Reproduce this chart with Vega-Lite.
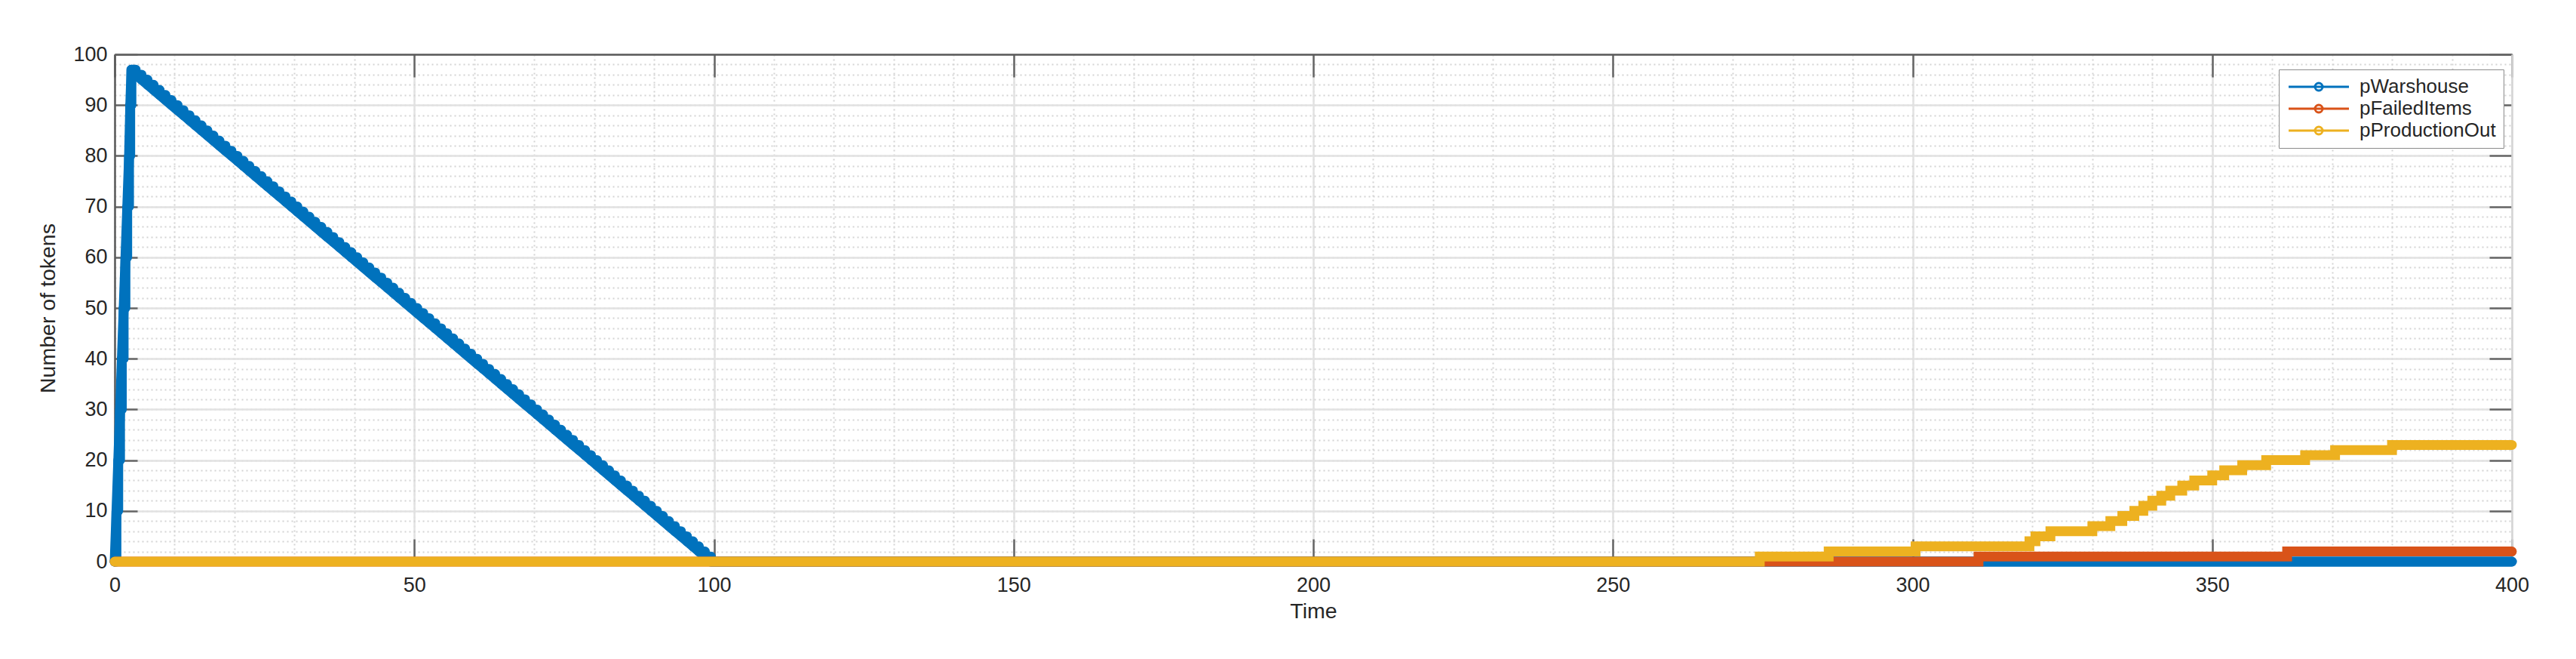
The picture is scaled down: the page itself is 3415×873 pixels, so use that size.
{
 "$schema": "https://vega.github.io/schema/vega-lite/v6.json",
 "width": 3178,
 "height": 672,
 "autosize": "none",
 "padding": {"left": 152, "top": 72, "right": 85, "bottom": 129},
 "background": "white",
 "data": {"values": [
  {"series":"pWarshouse","time":0,"tokens":0},
  {"series":"pWarshouse","time":0.3,"tokens":10},
  {"series":"pWarshouse","time":0.6,"tokens":20},
  {"series":"pWarshouse","time":0.9,"tokens":30},
  {"series":"pWarshouse","time":1.2,"tokens":40},
  {"series":"pWarshouse","time":1.5,"tokens":50},
  {"series":"pWarshouse","time":1.8,"tokens":60},
  {"series":"pWarshouse","time":2.1,"tokens":70},
  {"series":"pWarshouse","time":2.4,"tokens":80},
  {"series":"pWarshouse","time":2.6,"tokens":90},
  {"series":"pWarshouse","time":2.8,"tokens":97},
  {"series":"pWarshouse","time":3.5,"tokens":96},
  {"series":"pWarshouse","time":4.5,"tokens":95},
  {"series":"pWarshouse","time":5.5,"tokens":94},
  {"series":"pWarshouse","time":6.5,"tokens":93},
  {"series":"pWarshouse","time":7.5,"tokens":92},
  {"series":"pWarshouse","time":8.5,"tokens":91},
  {"series":"pWarshouse","time":9.5,"tokens":90},
  {"series":"pWarshouse","time":10.5,"tokens":89},
  {"series":"pWarshouse","time":11.5,"tokens":88},
  {"series":"pWarshouse","time":12.5,"tokens":87},
  {"series":"pWarshouse","time":13.5,"tokens":86},
  {"series":"pWarshouse","time":14.5,"tokens":85},
  {"series":"pWarshouse","time":15.5,"tokens":84},
  {"series":"pWarshouse","time":16.5,"tokens":83},
  {"series":"pWarshouse","time":17.5,"tokens":82},
  {"series":"pWarshouse","time":18.5,"tokens":81},
  {"series":"pWarshouse","time":19.5,"tokens":80},
  {"series":"pWarshouse","time":20.5,"tokens":79},
  {"series":"pWarshouse","time":21.5,"tokens":78},
  {"series":"pWarshouse","time":22.5,"tokens":77},
  {"series":"pWarshouse","time":23.5,"tokens":76},
  {"series":"pWarshouse","time":24.5,"tokens":75},
  {"series":"pWarshouse","time":25.5,"tokens":74},
  {"series":"pWarshouse","time":26.5,"tokens":73},
  {"series":"pWarshouse","time":27.5,"tokens":72},
  {"series":"pWarshouse","time":28.5,"tokens":71},
  {"series":"pWarshouse","time":29.5,"tokens":70},
  {"series":"pWarshouse","time":30.5,"tokens":69},
  {"series":"pWarshouse","time":31.5,"tokens":68},
  {"series":"pWarshouse","time":32.5,"tokens":67},
  {"series":"pWarshouse","time":33.5,"tokens":66},
  {"series":"pWarshouse","time":34.5,"tokens":65},
  {"series":"pWarshouse","time":35.5,"tokens":64},
  {"series":"pWarshouse","time":36.5,"tokens":63},
  {"series":"pWarshouse","time":37.5,"tokens":62},
  {"series":"pWarshouse","time":38.5,"tokens":61},
  {"series":"pWarshouse","time":39.5,"tokens":60},
  {"series":"pWarshouse","time":40.5,"tokens":59},
  {"series":"pWarshouse","time":41.5,"tokens":58},
  {"series":"pWarshouse","time":42.5,"tokens":57},
  {"series":"pWarshouse","time":43.5,"tokens":56},
  {"series":"pWarshouse","time":44.5,"tokens":55},
  {"series":"pWarshouse","time":45.5,"tokens":54},
  {"series":"pWarshouse","time":46.5,"tokens":53},
  {"series":"pWarshouse","time":47.5,"tokens":52},
  {"series":"pWarshouse","time":48.5,"tokens":51},
  {"series":"pWarshouse","time":49.5,"tokens":50},
  {"series":"pWarshouse","time":50.5,"tokens":49},
  {"series":"pWarshouse","time":51.5,"tokens":48},
  {"series":"pWarshouse","time":52.5,"tokens":47},
  {"series":"pWarshouse","time":53.5,"tokens":46},
  {"series":"pWarshouse","time":54.5,"tokens":45},
  {"series":"pWarshouse","time":55.5,"tokens":44},
  {"series":"pWarshouse","time":56.5,"tokens":43},
  {"series":"pWarshouse","time":57.5,"tokens":42},
  {"series":"pWarshouse","time":58.5,"tokens":41},
  {"series":"pWarshouse","time":59.5,"tokens":40},
  {"series":"pWarshouse","time":60.5,"tokens":39},
  {"series":"pWarshouse","time":61.5,"tokens":38},
  {"series":"pWarshouse","time":62.5,"tokens":37},
  {"series":"pWarshouse","time":63.5,"tokens":36},
  {"series":"pWarshouse","time":64.5,"tokens":35},
  {"series":"pWarshouse","time":65.5,"tokens":34},
  {"series":"pWarshouse","time":66.5,"tokens":33},
  {"series":"pWarshouse","time":67.5,"tokens":32},
  {"series":"pWarshouse","time":68.5,"tokens":31},
  {"series":"pWarshouse","time":69.5,"tokens":30},
  {"series":"pWarshouse","time":70.5,"tokens":29},
  {"series":"pWarshouse","time":71.5,"tokens":28},
  {"series":"pWarshouse","time":72.5,"tokens":27},
  {"series":"pWarshouse","time":73.5,"tokens":26},
  {"series":"pWarshouse","time":74.5,"tokens":25},
  {"series":"pWarshouse","time":75.5,"tokens":24},
  {"series":"pWarshouse","time":76.5,"tokens":23},
  {"series":"pWarshouse","time":77.5,"tokens":22},
  {"series":"pWarshouse","time":78.5,"tokens":21},
  {"series":"pWarshouse","time":79.5,"tokens":20},
  {"series":"pWarshouse","time":80.5,"tokens":19},
  {"series":"pWarshouse","time":81.5,"tokens":18},
  {"series":"pWarshouse","time":82.5,"tokens":17},
  {"series":"pWarshouse","time":83.5,"tokens":16},
  {"series":"pWarshouse","time":84.5,"tokens":15},
  {"series":"pWarshouse","time":85.5,"tokens":14},
  {"series":"pWarshouse","time":86.5,"tokens":13},
  {"series":"pWarshouse","time":87.5,"tokens":12},
  {"series":"pWarshouse","time":88.5,"tokens":11},
  {"series":"pWarshouse","time":89.5,"tokens":10},
  {"series":"pWarshouse","time":90.5,"tokens":9},
  {"series":"pWarshouse","time":91.5,"tokens":8},
  {"series":"pWarshouse","time":92.5,"tokens":7},
  {"series":"pWarshouse","time":93.5,"tokens":6},
  {"series":"pWarshouse","time":94.5,"tokens":5},
  {"series":"pWarshouse","time":95.5,"tokens":4},
  {"series":"pWarshouse","time":96.5,"tokens":3},
  {"series":"pWarshouse","time":97.5,"tokens":2},
  {"series":"pWarshouse","time":98.5,"tokens":1},
  {"series":"pWarshouse","time":99.5,"tokens":0},
  {"series":"pWarshouse","time":400,"tokens":0},
  {"series":"pFailedItems","time":0,"tokens":0},
  {"series":"pFailedItems","time":311,"tokens":1},
  {"series":"pFailedItems","time":362.5,"tokens":2},
  {"series":"pFailedItems","time":400,"tokens":2},
  {"series":"pProductionOut","time":0,"tokens":0},
  {"series":"pProductionOut","time":274.5,"tokens":1},
  {"series":"pProductionOut","time":286,"tokens":2},
  {"series":"pProductionOut","time":300.5,"tokens":3},
  {"series":"pProductionOut","time":319.5,"tokens":4},
  {"series":"pProductionOut","time":320.5,"tokens":5},
  {"series":"pProductionOut","time":323,"tokens":6},
  {"series":"pProductionOut","time":330,"tokens":7},
  {"series":"pProductionOut","time":333,"tokens":8},
  {"series":"pProductionOut","time":335,"tokens":9},
  {"series":"pProductionOut","time":337,"tokens":10},
  {"series":"pProductionOut","time":338.5,"tokens":11},
  {"series":"pProductionOut","time":340,"tokens":12},
  {"series":"pProductionOut","time":341.5,"tokens":13},
  {"series":"pProductionOut","time":343,"tokens":14},
  {"series":"pProductionOut","time":345,"tokens":15},
  {"series":"pProductionOut","time":347,"tokens":16},
  {"series":"pProductionOut","time":350,"tokens":17},
  {"series":"pProductionOut","time":352,"tokens":18},
  {"series":"pProductionOut","time":355,"tokens":19},
  {"series":"pProductionOut","time":359,"tokens":20},
  {"series":"pProductionOut","time":365.5,"tokens":21},
  {"series":"pProductionOut","time":370.5,"tokens":22},
  {"series":"pProductionOut","time":380,"tokens":23},
  {"series":"pProductionOut","time":400,"tokens":23}
 ]},
 "layer": [
  {
   "transform": [{"filter": "datum.series === 'pWarshouse'"}],
   "mark": {"type": "line", "interpolate": "step-after", "strokeWidth": 13, "strokeJoin": "round", "strokeCap": "round"},
   "encoding": {
    "x": {"field": "time", "type": "quantitative", "scale": {"domain": [0, 400], "nice": false, "zero": false},
     "axis": {"orient": "bottom", "values": [0,10,20,30,40,50,60,70,80,90,100,110,120,130,140,150,160,170,180,190,200,210,220,230,240,250,260,270,280,290,300,310,320,330,340,350,360,370,380,390,400],
      "grid": true, "gridColor": "#d4d4d4", "gridDash": [2, 4], "gridWidth": 2, "domain": false, "ticks": false, "labels": false, "title": null}},
    "y": {"field": "tokens", "type": "quantitative", "scale": {"domain": [0, 100], "nice": false},
     "axis": {"orient": "left", "values": [0,2,4,6,8,10,12,14,16,18,20,22,24,26,28,30,32,34,36,38,40,42,44,46,48,50,52,54,56,58,60,62,64,66,68,70,72,74,76,78,80,82,84,86,88,90,92,94,96,98,100],
      "grid": true, "gridColor": "#d4d4d4", "gridDash": [2, 4], "gridWidth": 2, "domain": false, "ticks": false, "labels": false, "title": null}},
    "color": {"field": "series", "type": "nominal",
     "scale": {"domain": ["pWarshouse", "pFailedItems", "pProductionOut"], "range": ["#0072BD", "#D95319", "#EDB120"]},
     "legend": {"orient": "none", "legendX": 2869, "legendY": 20, "title": null,
      "symbolType": "M-4,0H4M-0.5,0A0.5,0.5 0 1,0 0.5,0A0.5,0.5 0 1,0 -0.5,0",
      "symbolSize": 400, "symbolStrokeWidth": 3, "symbolFillColor": "transparent", "symbolOffset": 30,
      "labelOffset": 41, "labelFontSize": 26, "labelFont": "Liberation Sans", "labelColor": "#262626", "labelLimit": 0,
      "padding": 10, "rowPadding": 3, "fillColor": "white", "strokeColor": "#8c8c8c"}}
   }
  },
  {
   "transform": [{"filter": "datum.series === 'pWarshouse'"}],
   "mark": {"type": "line", "interpolate": "linear", "strokeWidth": 13, "strokeJoin": "round", "strokeCap": "round"},
   "encoding": {
    "x": {"field": "time", "type": "quantitative", "scale": {"domain": [0, 400], "nice": false, "zero": false}, "axis": null},
    "y": {"field": "tokens", "type": "quantitative", "scale": {"domain": [0, 100], "nice": false}, "axis": null},
    "color": {"field": "series", "type": "nominal",
     "scale": {"domain": ["pWarshouse", "pFailedItems", "pProductionOut"], "range": ["#0072BD", "#D95319", "#EDB120"]}}
   }
  },
  {
   "transform": [{"filter": "datum.series === 'pFailedItems'"}],
   "mark": {"type": "line", "interpolate": "step-after", "strokeWidth": 13, "strokeJoin": "miter", "strokeCap": "round"},
   "encoding": {
    "x": {"field": "time", "type": "quantitative", "scale": {"domain": [0, 400], "nice": false, "zero": false},
     "axis": {"orient": "bottom", "values": [0,50,100,150,200,250,300,350,400],
      "grid": true, "gridColor": "#e2e2e2", "gridWidth": 2.5, "domain": true, "domainColor": "#5a5a5a", "domainWidth": 2.5,
      "ticks": true, "tickSize": -30, "tickColor": "#666666", "tickWidth": 2.5,
      "labelFontSize": 27, "labelPadding": 48, "labelFlush": false, "title": "Time", "titleFontSize": 28.5, "titlePadding": 7}},
    "y": {"field": "tokens", "type": "quantitative", "scale": {"domain": [0, 100], "nice": false},
     "axis": {"orient": "left", "values": [0,10,20,30,40,50,60,70,80,90,100],
      "grid": true, "gridColor": "#e2e2e2", "gridWidth": 2.5, "domain": true, "domainColor": "#5a5a5a", "domainWidth": 2.5,
      "ticks": true, "tickSize": -30, "tickColor": "#666666", "tickWidth": 2.5,
      "labelFontSize": 27, "labelPadding": 40, "title": "Number of tokens", "titleFontSize": 28.5, "titlePadding": 18}},
    "color": {"field": "series", "type": "nominal",
     "scale": {"domain": ["pWarshouse", "pFailedItems", "pProductionOut"], "range": ["#0072BD", "#D95319", "#EDB120"]}}
   }
  },
  {
   "transform": [{"filter": "datum.series === 'pProductionOut'"}],
   "mark": {"type": "line", "interpolate": "step-after", "strokeWidth": 13, "strokeJoin": "miter", "strokeCap": "round"},
   "encoding": {
    "x": {"field": "time", "type": "quantitative", "scale": {"domain": [0, 400], "nice": false, "zero": false},
     "axis": {"orient": "top", "values": [0,50,100,150,200,250,300,350,400],
      "grid": false, "domain": true, "domainColor": "#5a5a5a", "domainWidth": 2.5,
      "ticks": true, "tickSize": -30, "tickColor": "#666666", "tickWidth": 2.5, "labels": false, "title": null}},
    "y": {"field": "tokens", "type": "quantitative", "scale": {"domain": [0, 100], "nice": false},
     "axis": {"orient": "right", "values": [0,10,20,30,40,50,60,70,80,90,100],
      "grid": false, "domain": true, "domainColor": "#d6d6d6", "domainWidth": 2.5,
      "ticks": true, "tickSize": -30, "tickColor": "#666666", "tickWidth": 2.5, "labels": false, "title": null}},
    "color": {"field": "series", "type": "nominal",
     "scale": {"domain": ["pWarshouse", "pFailedItems", "pProductionOut"], "range": ["#0072BD", "#D95319", "#EDB120"]}}
   }
  }
 ],
 "resolve": {"axis": {"x": "independent", "y": "independent"}},
 "config": {
  "font": "Liberation Sans",
  "view": {"stroke": null},
  "axis": {"labelFont": "Liberation Sans", "titleFont": "Liberation Sans", "labelColor": "#262626", "titleColor": "#262626", "titleFontWeight": "normal"}
 }
}
